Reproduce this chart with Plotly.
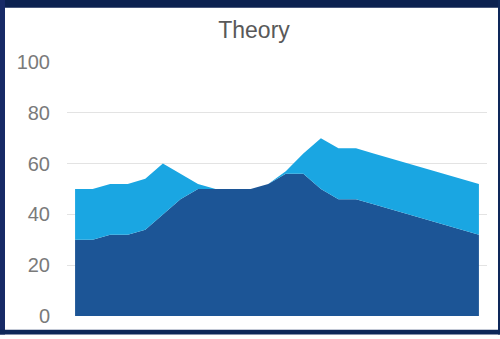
import plotly.graph_objects as go

# Data (24 points)
x_idx = list(range(24))
series_dark = [30, 30, 32, 32, 34, 40, 46, 50, 50, 50, 50, 52, 56, 56, 50, 46, 46, 44, 42, 40, 38, 36, 34, 32]
series_light = [20, 20, 20, 20, 20, 20, 10, 2, 0, 0, 0, 0, 1, 8, 20, 20, 20, 20, 20, 20, 20, 20, 20, 20]
y_ticks = [0, 20, 40, 60, 80, 100]
title_text = "Theory"

W, H = 500, 339
ML, MR, MT, MB = 67, 13, 62, 17
PW, PH = W - ML - MR, H - MT - MB

def px(v):
    return (v - ML) / PW

def py(v):
    return (H - MB - v) / PH

fig = go.Figure()
fig.add_trace(go.Scatter(x=x_idx, y=series_dark, stackgroup="one", mode="lines",
                         line=dict(width=0, color="#1c5596"), fillcolor="#1c5596",
                         hoverinfo="skip", showlegend=False))
fig.add_trace(go.Scatter(x=x_idx, y=series_light, stackgroup="one", mode="lines",
                         line=dict(width=0, color="#1aa6e2"), fillcolor="#1aa6e2",
                         hoverinfo="skip", showlegend=False))

navy = "#0e2759"
shapes = [
    dict(type="rect", xref="paper", yref="paper", x0=px(-2), x1=px(502), y0=py(6.5), y1=py(-2), fillcolor="#0b2150", line=dict(width=0)),
    dict(type="rect", xref="paper", yref="paper", x0=px(-2), x1=px(5), y0=py(341), y1=py(-2), fillcolor="#172a66", line=dict(width=0)),
    dict(type="rect", xref="paper", yref="paper", x0=px(498), x1=px(502), y0=py(341), y1=py(-2), fillcolor=navy, line=dict(width=0)),
    dict(type="rect", xref="paper", yref="paper", x0=px(-2), x1=px(502), y0=py(341), y1=py(336), fillcolor=navy, line=dict(width=0)),
]

fig.update_layout(
    width=W, height=H,
    margin=dict(l=ML, r=MR, t=MT, b=MB),
    paper_bgcolor="white", plot_bgcolor="white",
    font=dict(family="Liberation Sans, Arial, sans-serif"),
    title=dict(text=title_text, x=0.508, xanchor="center", y=1 - 30 / H, yanchor="middle",
               font=dict(size=23, color="#595959")),
    xaxis=dict(range=[-0.46, 23.46], showgrid=False, showticklabels=False, zeroline=False,
               showline=False, ticks=""),
    yaxis=dict(range=[0, 100], tickvals=y_ticks, showgrid=True, gridcolor="#e3e3e3", gridwidth=1,
               zeroline=False, showline=False, ticks="",
               tickfont=dict(size=20, color="#7a7a7a"), ticklabelstandoff=16),
    shapes=shapes,
)

fig.write_html("out.html")
